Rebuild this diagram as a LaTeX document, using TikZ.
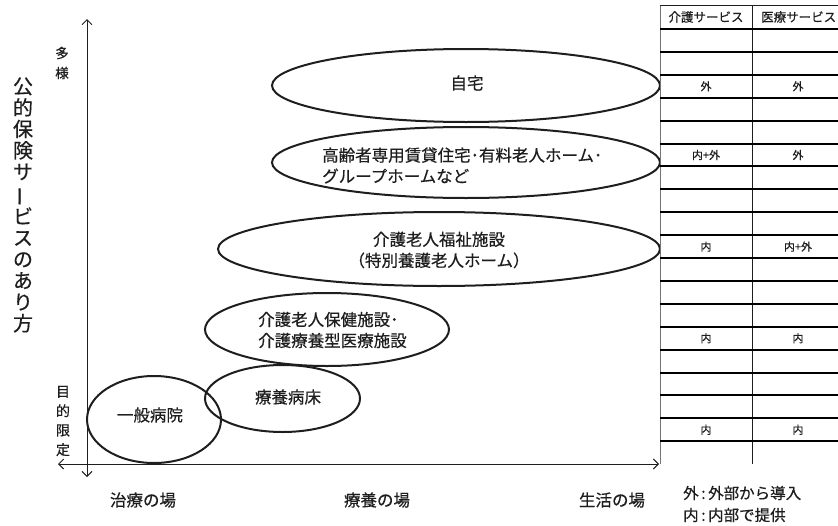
\documentclass[tikz,border=0pt]{standalone}
\usepackage{fontspec}
\setmainfont{Noto Sans CJK JP}[FakeBold=0.5]
\usetikzlibrary{shapes.geometric,arrows.meta}
\definecolor{ink}{HTML}{1E1E1E}
\begin{document}
\begin{tikzpicture}[x=1pt,y=-1pt,
  oval/.style={draw=ink,line width=2pt,ellipse,inner sep=0pt},
  lbl/.style={font=\fontsize{16.5}{21}\selectfont,inner sep=0pt,text=ink},
  axislbl/.style={font=\fontsize{16.5}{20}\selectfont,inner sep=0pt,text=ink},
  hdr/.style={font=\fontsize{12.5}{14}\selectfont,inner sep=0pt,text=ink},
  cell/.style={font=\fontsize{11}{13}\selectfont,inner sep=0pt,text=ink},
  legend/.style={font=\fontsize{15.5}{18}\selectfont,inner sep=0pt,anchor=west,text=ink},
  axis/.style={draw=ink,line width=0.9pt,{Straight Barb[length=5pt,width=10pt]}-{Straight Barb[length=5pt,width=10pt]}},
  rowline/.style={draw=black,line width=2pt},
  colline/.style={draw=ink,line width=0.8pt}
]
\useasboundingbox (0,0) rectangle (838,525);

% axes
\coordinate (yt) at (87,19);
\coordinate (yb) at (87,477);
\coordinate (xl) at (58,464);
\coordinate (xr) at (659,464);
\draw[axis] (yb) -- (yt);
\draw[axis] (xl) -- (xr);

% vertical axis labels
\node[font=\fontsize{20}{21.4}\selectfont,align=center,inner sep=0pt,text=ink] (ytitle) at (23,205)
  {公\\的\\保\\険\\サ\\\rotatebox[origin=c]{90}{ー}\\ビ\\ス\\の\\あ\\り\\方};
\node[font=\fontsize{13.5}{20}\selectfont,align=center,inner sep=0pt,text=ink] (tayo) at (62,63) {多\\様};
\node[font=\fontsize{14}{19.4}\selectfont,align=center,inner sep=0pt,text=ink] (gentei) at (63,421) {目\\的\\限\\定};

% horizontal axis labels
\node[axislbl] (x1) at (143,500) {治療の場};
\node[axislbl] (x2) at (377,500) {療養の場};
\node[axislbl] (x3) at (612,500) {生活の場};

% ellipses
\node[oval,minimum width=388pt,minimum height=73pt] (jitaku) at (466,85.5) {};
\node[oval,minimum width=388pt,minimum height=71pt] (koreisha) at (466,162.5) {};
\node[oval,minimum width=442pt,minimum height=74pt] (fukushi) at (439,249) {};
\node[oval,minimum width=244pt,minimum height=73pt] (hoken) at (327,329.5) {};
\node[oval,minimum width=155pt,minimum height=67pt] (ryoyo) at (282.5,398.5) {};
\node[oval,minimum width=134pt,minimum height=87pt] (ippan) at (154,419.5) {};

% ellipse labels
\node[lbl] (tjitaku) at (467,83) {自宅};
\node[lbl,align=left,anchor=west] (tkoreisha) at (322,165.5) {高齢者専用賃貸住宅･有料老人ホーム･\\グループホームなど};
\node[lbl,align=center] (tfukushi) at (439,250) {介護老人福祉施設\\（特別養護老人ホーム）};
\node[lbl,align=left,anchor=west] (thoken) at (258,330) {介護老人保健施設･\\介護療養型医療施設};
\node[lbl] (tryoyo) at (288,397) {療養病床};
\node[lbl] (tippan) at (150,415) {一般病院};

% table
\draw[colline,draw=black!55] (660,5) -- (660,464);
\draw[colline] (752,5) -- (752,464);
\draw[draw=ink,line width=0.8pt] (660,5) -- (838,5);
\foreach \k in {0,...,18} {
  \draw[rowline] (660,29+22.9*\k) -- (838,29+22.9*\k);
}
\node[hdr] (h1) at (706,17) {介護サービス};
\node[hdr,anchor=west] (h2) at (761,17) {医療サービス};

\node[cell] (c31) at (706,86.3) {外};
\node[cell] (c32) at (798,86.3) {外};
\node[cell] (c61) at (706,155) {内+外};
\node[cell] (c62) at (798,155) {外};
\node[cell] (c101) at (706,246.6) {内};
\node[cell] (c102) at (798,246.6) {内+外};
\node[cell] (c141) at (706,338.2) {内};
\node[cell] (c142) at (798,338.2) {内};
\node[cell] (c181) at (706,429.8) {内};
\node[cell] (c182) at (798,429.8) {内};

% legend
\node[legend] (lg1) at (683,493) {外\,:\,外部から導入};
\node[legend] (lg2) at (683,515) {内\,:\,内部で提供};
\end{tikzpicture}
\end{document}
